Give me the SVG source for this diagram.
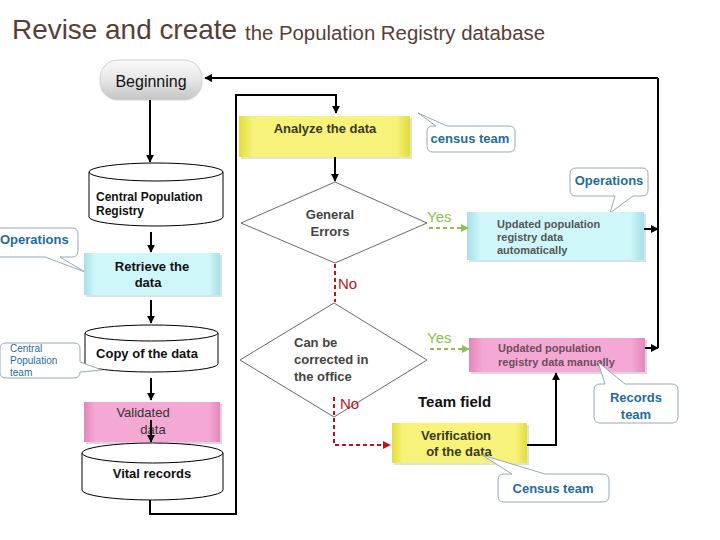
<svg xmlns="http://www.w3.org/2000/svg" width="720" height="540" viewBox="0 0 720 540">
<defs>
<style>
.t{font-family:"Liberation Sans",Arial,sans-serif}
.b{font-weight:bold}
.line{fill:none;stroke:#000;stroke-width:2}
.call{fill:#fff;stroke:#9aa8b8;stroke-width:1}
.ct{font-family:"Liberation Sans",Arial,sans-serif;font-weight:bold;fill:#1f6ba0;font-size:13px}
.cyl{fill:#fff;stroke:#000;stroke-width:1}
.dia{fill:none;stroke:#444;stroke-width:0.8}
.red{fill:none;stroke:#c0141c;stroke-width:2;stroke-dasharray:4 3}
.grn{fill:none;stroke:#8cc152;stroke-width:2;stroke-dasharray:4 3}
</style>
<linearGradient id="gy" x1="0" y1="0" x2="1" y2="0">
<stop offset="0" stop-color="#e3dc3c"/><stop offset="0.08" stop-color="#f6f27a"/><stop offset="0.92" stop-color="#f6f27a"/><stop offset="1" stop-color="#e3dc3c"/>
</linearGradient>
<linearGradient id="gc" x1="0" y1="0" x2="1" y2="0">
<stop offset="0" stop-color="#a6e0e6"/><stop offset="0.08" stop-color="#cff7fa"/><stop offset="0.92" stop-color="#cff7fa"/><stop offset="1" stop-color="#a6e0e6"/>
</linearGradient>
<linearGradient id="gp" x1="0" y1="0" x2="1" y2="0">
<stop offset="0" stop-color="#e386bb"/><stop offset="0.08" stop-color="#f4a9d4"/><stop offset="0.92" stop-color="#f4a9d4"/><stop offset="1" stop-color="#e386bb"/>
</linearGradient>
<linearGradient id="gg" x1="0" y1="0" x2="0" y2="1">
<stop offset="0" stop-color="#fafafa"/><stop offset="0.5" stop-color="#e6e6e6"/><stop offset="1" stop-color="#c4c4c4"/>
</linearGradient>
<marker id="ar" viewBox="0 0 10 10" refX="9" refY="5" markerWidth="4" markerHeight="4" orient="auto"><path d="M0,0 L10,5 L0,10 Z" fill="#000"/></marker>
<marker id="arr" viewBox="0 0 10 10" refX="9" refY="5" markerWidth="4" markerHeight="4" orient="auto"><path d="M0,0 L10,5 L0,10 Z" fill="#c0141c"/></marker>
<marker id="arg" viewBox="0 0 10 10" refX="9" refY="5" markerWidth="4" markerHeight="4" orient="auto"><path d="M0,0 L10,5 L0,10 Z" fill="#8cc152"/></marker>
</defs>
<rect width="720" height="540" fill="#fff"/>

<g id="title">
<text class="t" x="12" y="39" font-size="28" fill="#5a3e36" textLength="225" lengthAdjust="spacingAndGlyphs">Revise and create</text>
<text class="t" x="245" y="40" font-size="20" fill="#5a3e36" textLength="300" lengthAdjust="spacingAndGlyphs">the  Population Registry database</text>
</g>

<g id="beginning">
<rect x="100" y="60" width="102" height="40" rx="18" fill="url(#gg)" stroke="#d0d0d0"/>
<text class="t" x="151" y="87" font-size="16" text-anchor="middle" fill="#111">Beginning</text>
</g>

<g id="analyze">
<rect x="241" y="118" width="171" height="41" fill="#c8c8a0" opacity="0.5"/>
<rect x="239" y="116" width="171" height="41" fill="url(#gy)"/>
<text class="t b" x="325" y="133" font-size="13" text-anchor="middle" fill="#3a3a1e">Analyze the data</text>
</g>

<g id="census-team-1">
<path class="call" d="M433,126 H436 L418,113 L447,126 H509 Q515,126 515,132 V146 Q515,152 509,152 H433 Q427,152 427,146 V132 Q427,126 433,126 Z"/>
<text class="ct" x="470" y="143" text-anchor="middle">census team</text>
</g>

<g id="cpr">
<path class="cyl" d="M89,172 A67,9 0 0,1 223,172 V217 A67,9 0 0,1 89,217 Z"/>
<path class="cyl" d="M89,172 A67,9 0 0,0 223,172" fill="none"/>
<text class="t b" x="96" y="201" font-size="12" fill="#111">Central Population</text>
<text class="t b" x="96" y="215" font-size="12" fill="#111">Registry</text>
</g>

<g id="operations-left">
<path class="call" d="M-4,228 H72 Q78,228 78,234 V251 Q78,257 72,257 H60 L85,272 L45,257 H-4 Q-10,257 -10,251 V234 Q-10,228 -4,228 Z"/>
<text class="ct" x="0" y="244" font-size="13">Operations</text>
</g>

<g id="retrieve">
<rect x="86" y="255" width="136" height="42" fill="#b0c8cc" opacity="0.5"/>
<rect x="84" y="253" width="136" height="42" fill="url(#gc)"/>
<text class="t b" x="152" y="271" font-size="13" text-anchor="middle" fill="#111">Retrieve  the</text>
<text class="t b" x="148" y="287" font-size="13" text-anchor="middle" fill="#111">data</text>
</g>

<g id="copy">
<path class="cyl" d="M85,333 A66.5,8 0 0,1 218,333 V364 A66.5,8 0 0,1 85,364 Z"/>
<path class="cyl" d="M85,333 A66.5,8 0 0,0 218,333" fill="none"/>
<text class="t b" x="147" y="358" font-size="13" text-anchor="middle" fill="#111">Copy of the data</text>
</g>

<g id="cp-team">
<path class="call" d="M6,343 H74 Q80,343 80,349 V362 L102,370 L80,372 Q80,378 74,378 H6 Q0,378 0,372 V349 Q0,343 6,343 Z"/>
<text class="t" x="10" y="352" font-size="10" fill="#1f6ba0">Central</text>
<text class="t" x="10" y="364" font-size="10" fill="#1f6ba0">Population</text>
<text class="t" x="10" y="376" font-size="10" fill="#1f6ba0">team</text>
</g>

<g id="validated">
<rect x="86" y="404" width="136" height="40" fill="#c8a8b8" opacity="0.5"/>
<rect x="84" y="402" width="136" height="40" fill="url(#gp)"/>
<text class="t" x="143" y="417" font-size="13" text-anchor="middle" fill="#333">Validated</text>
<text class="t" x="153" y="434" font-size="13" text-anchor="middle" fill="#333">data</text>
</g>

<g id="vital">
<path class="cyl" d="M82,453 A70.5,10 0 0,1 223,453 V490 A70.5,10 0 0,1 82,490 Z"/>
<path class="cyl" d="M82,453 A70.5,10 0 0,0 223,453" fill="none"/>
<text class="t b" x="152" y="478" font-size="13" text-anchor="middle" fill="#111">Vital records</text>
</g>

<g id="general-errors">
<polygon class="dia" points="335,182 427,223 335,263 241,223"/>
<text class="t b" x="330" y="219" font-size="13" text-anchor="middle" fill="#444">General</text>
<text class="t b" x="330" y="236" font-size="13" text-anchor="middle" fill="#444">Errors</text>
</g>

<g id="operations-right">
<path class="call" d="M576,168 H642 Q648,168 648,174 V190 Q648,196 642,196 H633 L610,213 L615,196 H576 Q570,196 570,190 V174 Q570,168 576,168 Z"/>
<text class="ct" x="609" y="185" text-anchor="middle">Operations</text>
</g>

<g id="updated-auto">
<rect x="469" y="214" width="177" height="48" fill="#b0c8cc" opacity="0.5"/>
<rect x="467" y="212" width="177" height="48" fill="url(#gc)"/>
<text class="t b" x="497" y="228" font-size="11" fill="#555">Updated population</text>
<text class="t b" x="497" y="241" font-size="11" fill="#555">registry data</text>
<text class="t b" x="497" y="254" font-size="11" fill="#555">automatically</text>
</g>

<g id="correctable">
<polygon class="dia" points="334,303 427,360 334,417 240,360"/>
<text class="t b" x="294" y="347" font-size="13" fill="#444">Can be</text>
<text class="t b" x="294" y="364" font-size="13" fill="#444">corrected in</text>
<text class="t b" x="294" y="381" font-size="13" fill="#444">the office</text>
</g>

<g id="updated-manual">
<rect x="471" y="340" width="176" height="34" fill="#c8a8b8" opacity="0.5"/>
<rect x="469" y="338" width="176" height="34" fill="url(#gp)"/>
<text class="t b" x="498" y="352" font-size="11" fill="#6a4e60">Updated population</text>
<text class="t b" x="498" y="366" font-size="11" fill="#6a4e60">registry data manually</text>
</g>

<g id="records-team">
<path class="call" d="M600,384 H605 L598,362 L625,384 H672 Q678,384 678,390 V417 Q678,423 672,423 H600 Q594,423 594,417 V390 Q594,384 600,384 Z"/>
<text class="ct" x="636" y="402" text-anchor="middle">Records</text>
<text class="ct" x="636" y="419" text-anchor="middle">team</text>
</g>

<g id="verification">
<rect x="394" y="425" width="135" height="40" fill="#c8c8a0" opacity="0.5"/>
<rect x="392" y="423" width="135" height="40" fill="url(#gy)"/>
<text class="t b" x="456" y="440" font-size="13" text-anchor="middle" fill="#3a3a1e">Verification</text>
<text class="t b" x="459" y="456" font-size="13" text-anchor="middle" fill="#3a3a1e">of the data</text>
</g>

<g id="census-team-2">
<path class="call" d="M504,474 H512 L482,455 L545,474 H603 Q609,474 609,480 V496 Q609,502 603,502 H504 Q498,502 498,496 V480 Q498,474 504,474 Z"/>
<text class="ct" x="553" y="493" text-anchor="middle">Census team</text>
</g>

<g id="connectors">
<path class="line" d="M150,100 V162" marker-end="url(#ar)"/>
<path class="line" d="M151,232 V252" marker-end="url(#ar)"/>
<path class="line" d="M151,300 V323" marker-end="url(#ar)"/>
<path class="line" d="M151,378 V400" marker-end="url(#ar)"/>
<path class="line" d="M151,420 V442" marker-end="url(#ar)"/>
<path class="line" d="M150,500 V514 H236 V95 H336 V113" stroke-width="1.5" marker-end="url(#ar)"/>
<path class="line" d="M335,157 V181" marker-end="url(#ar)"/>
<path class="line" d="M658,348 V78" stroke-width="1.5"/>
<path class="line" d="M658,78 H205" stroke-width="3" marker-end="url(#ar)"/>
<path class="line" d="M644,229 H658" marker-end="url(#ar)"/>
<path class="line" d="M645,348 H658" marker-end="url(#ar)"/>
<path class="line" d="M527,445 H556 V373" stroke-width="1.5" marker-end="url(#ar)"/>
<path class="grn" d="M429,228 H468" marker-end="url(#arg)"/>
<path class="grn" d="M430,349 H469" marker-end="url(#arg)"/>
<path class="red" d="M335,264 V302"/>
<path class="red" d="M334,397 V445 H390" marker-end="url(#arr)"/>
</g>

<g id="labels">
<text class="t" x="427" y="222" font-size="15" fill="#8cc152">Yes</text>
<text class="t" x="338" y="289" font-size="15" fill="#c0141c">No</text>
<text class="t" x="427" y="343" font-size="15" fill="#8cc152">Yes</text>
<text class="t" x="340" y="409" font-size="15" fill="#c0141c">No</text>
<text class="t b" x="418" y="407" font-size="15" fill="#111">Team field</text>
</g>
</svg>
